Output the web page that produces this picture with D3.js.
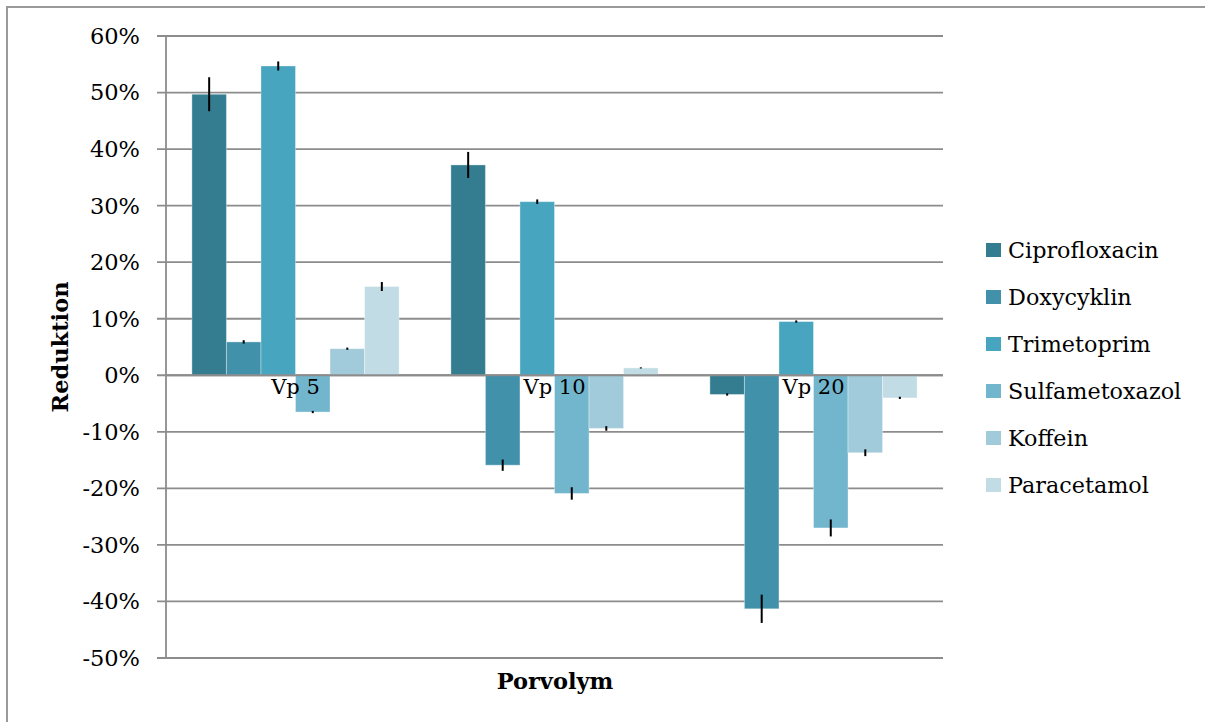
<!DOCTYPE html>
<html>
<head>
<meta charset="utf-8">
<script src="https://cdn.jsdelivr.net/npm/d3@7"></script>
<style>
html,body{margin:0;padding:0;background:#fff;}
svg{display:block;}
text{font-family:"DejaVu Serif",serif;fill:#000;}
</style>
</head>
<body>
<svg id="chart" width="1205" height="722"></svg>
<script>
const categories = ["Vp 5", "Vp 10", "Vp 20"];
const seriesNames = ["Ciprofloxacin", "Doxycyklin", "Trimetoprim", "Sulfametoxazol", "Koffein", "Paracetamol"];
const colors = ["#347C90", "#4191AA", "#48A5BF", "#72B6CD", "#A1CADA", "#C2DCE5"];
// values per series, one per category
const ciprofloxacin  = [0.497, 0.372, -0.034];
const doxycyklin     = [0.059, -0.159, -0.413];
const trimetoprim    = [0.547, 0.307, 0.095];
const sulfametoxazol = [-0.065, -0.209, -0.270];
const koffein        = [0.047, -0.094, -0.137];
const paracetamol    = [0.157, 0.013, -0.040];
// error (+/-) per series, one per category
const errCiprofloxacin  = [0.030, 0.023, 0.002];
const errDoxycyklin     = [0.003, 0.010, 0.025];
const errTrimetoprim    = [0.008, 0.004, 0.002];
const errSulfametoxazol = [0.002, 0.011, 0.015];
const errKoffein        = [0.002, 0.004, 0.006];
const errParacetamol    = [0.008, 0.001, 0.002];
const yTicks = [0.6, 0.5, 0.4, 0.3, 0.2, 0.1, 0, -0.1, -0.2, -0.3, -0.4, -0.5];

const values = [ciprofloxacin, doxycyklin, trimetoprim, sulfametoxazol, koffein, paracetamol];
const errors = [errCiprofloxacin, errDoxycyklin, errTrimetoprim, errSulfametoxazol, errKoffein, errParacetamol];

const svg = d3.select("#chart");

// outer frame (clipped on right/bottom)
svg.append("rect").attr("x", 7).attr("y", 7).attr("width", 1400).attr("height", 900)
  .attr("fill", "none").attr("stroke", "#9a9a9a").attr("stroke-width", 2);

const pLeft = 166, pRight = 943, pTop = 36, pBottom = 658;
const y = d3.scaleLinear().domain([0.6, -0.5]).range([pTop, pBottom]);
const x0 = d3.scaleBand().domain(categories).range([pLeft, pRight]).paddingInner(0.2).paddingOuter(0.1);
const x1 = d3.scaleBand().domain(seriesNames).range([0, x0.bandwidth()]).padding(0);

// gridlines
svg.append("g").selectAll("line").data(yTicks).join("line")
  .attr("x1", pLeft - 9).attr("x2", pRight)
  .attr("y1", d => y(d)).attr("y2", d => y(d))
  .attr("stroke", "#8c8c8c").attr("stroke-width", 1.8);

// y axis line
svg.append("line").attr("x1", pLeft).attr("x2", pLeft).attr("y1", y(0.6)).attr("y2", y(-0.5))
  .attr("stroke", "#8c8c8c").attr("stroke-width", 1.8);

// tick labels
svg.append("g").selectAll("text").data(yTicks).join("text")
  .attr("x", 140).attr("y", d => y(d)).attr("dy", "0.35em")
  .attr("text-anchor", "end").style("font-size", "22.5px")
  .text(d => d3.format(".0%")(d).replace("−", "-"));

// bars
const flat = [];
seriesNames.forEach((s, si) => {
  categories.forEach((c, ci) => {
    flat.push({s, si, c, v: values[si][ci], e: errors[si][ci]});
  });
});

svg.append("g").selectAll("rect").data(flat).join("rect")
  .attr("x", d => x0(d.c) + x1(d.s))
  .attr("width", x1.bandwidth())
  .attr("y", d => Math.min(y(d.v), y(0)))
  .attr("height", d => Math.abs(y(d.v) - y(0)))
  .attr("fill", d => colors[d.si])
  .attr("stroke", "rgba(255,255,255,0.35)").attr("stroke-width", 1);

// zero line on top
svg.append("line").attr("x1", pLeft).attr("x2", pRight).attr("y1", y(0)).attr("y2", y(0))
  .attr("stroke", "#8c8c8c").attr("stroke-width", 1.8);

// error bars
svg.append("g").selectAll("line").data(flat).join("line")
  .attr("x1", d => x0(d.c) + x1(d.s) + x1.bandwidth() / 2)
  .attr("x2", d => x0(d.c) + x1(d.s) + x1.bandwidth() / 2)
  .attr("y1", d => y(d.v + d.e)).attr("y2", d => y(d.v - d.e))
  .attr("stroke", "#000").attr("stroke-width", 2);

// category labels
svg.append("g").selectAll("text").data(categories).join("text")
  .attr("x", d => x0(d) + x0.bandwidth() / 2).attr("y", y(0) + 19)
  .attr("text-anchor", "middle").style("font-size", "21px")
  .text(d => d);

// axis titles
svg.append("text").attr("transform", `translate(68,${(pTop + pBottom) / 2}) rotate(-90)`)
  .attr("text-anchor", "middle").style("font-size", "22.5px").style("font-weight", "bold")
  .text("Reduktion");
svg.append("text").attr("x", 555).attr("y", 689)
  .attr("text-anchor", "middle").style("font-size", "22.5px").style("font-weight", "bold")
  .text("Porvolym");

// legend
const lg = svg.append("g").selectAll("g").data(seriesNames).join("g")
  .attr("transform", (d, i) => `translate(986,${250 + i * 47})`);
lg.append("rect").attr("x", 0).attr("y", -7).attr("width", 15).attr("height", 14)
  .attr("fill", (d, i) => colors[i]);
lg.append("text").attr("x", 22).attr("y", 0).attr("dy", "0.35em")
  .style("font-size", "22.3px").text(d => d);
</script>
</body>
</html>
